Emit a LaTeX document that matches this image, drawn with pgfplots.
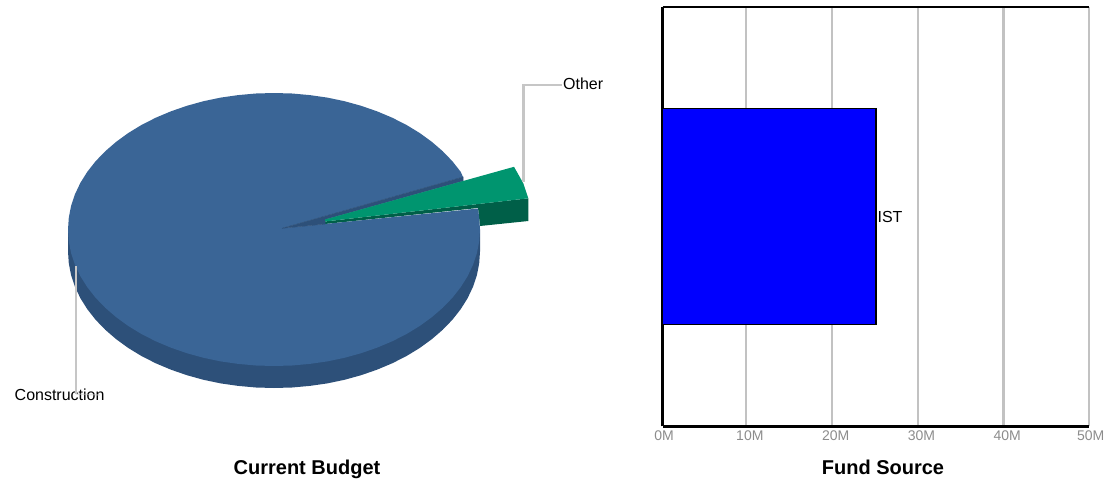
\documentclass[border=0pt]{standalone}
\usepackage{pgfplots}
\pgfplotsset{compat=1.18}
\usepackage{fontspec}
\setmainfont{Liberation Sans}
\definecolor{pieblue}{HTML}{3A6596}
\definecolor{piebluedk}{HTML}{2D5079}
\definecolor{piegreen}{HTML}{00956F}
\definecolor{piegreendk}{HTML}{005F48}
\definecolor{leader}{HTML}{C6C6C6}
\definecolor{gridc}{HTML}{C2C2C2}
\definecolor{tickc}{HTML}{8C8C8C}
\begin{document}
\begin{tikzpicture}[x=1pt,y=1pt]
\path[use as bounding box] (0,0) rectangle (1116,479);
\begin{axis}[
  at={(0pt,0pt)},anchor=south west,
  scale only axis,width=1116pt,height=479pt,
  xmin=0,xmax=1116,ymin=0,ymax=479,y dir=reverse,
  hide axis,clip=false]
% side wall of the large slice
\addplot[fill=piebluedk,draw=none] coordinates {
(68,251.5)(68.8,263.4)(71.1,275.2)(75,286.8)(80.4,298.2)(87.3,309.2)(95.6,319.75)(105.3,329.8)(116.2,339.2)(128.3,348)(141.6,356.1)(155.8,363.3)(171,369.7)(186.9,375.2)(203.5,379.8)(220.7,383.4)(238.2,385.9)(256,387.5)(274,388)(292,387.5)(309.8,385.9)(327.3,383.4)(344.5,379.8)(361.1,375.2)(377,369.7)(392.2,363.3)(406.4,356.1)(419.7,348)(431.8,339.2)(442.7,329.8)(452.4,319.75)(460.7,309.2)(467.6,298.2)(473,286.8)(476.9,275.2)(479.2,263.4)(480,251.5)(480,229.5)(68,229.5)} --cycle;
% side wall of the small slice
\addplot[fill=piegreendk,draw=none] coordinates {(325,221.5)(528.3,198.3)(528.3,221)(480,226)(478,208)(325,224)} --cycle;
% top of the large slice
\addplot[fill=pieblue,draw=none] coordinates {
(282,228.3)(463,177)(460.7,171.8)(452.4,161.25)(442.7,151.2)(431.8,141.8)(419.7,133)(406.4,124.9)(392.2,117.7)(377,111.3)(361.1,105.8)(344.5,101.2)(327.3,97.6)(309.8,95.1)(292,93.5)(274,93)(256,93.5)(238.2,95.1)(220.7,97.6)(203.5,101.2)(186.9,105.8)(171,111.3)(155.8,117.7)(141.6,124.9)(128.3,133)(116.2,141.8)(105.3,151.2)(95.6,161.25)(87.3,171.8)(80.4,182.8)(75,194.2)(71.1,205.8)(68.8,217.6)(68,229.5)(68.8,241.4)(71.1,253.2)(75,264.8)(80.4,276.2)(87.3,287.2)(95.6,297.75)(105.3,307.8)(116.2,317.2)(128.3,326)(141.6,334.1)(155.8,341.3)(171,347.7)(186.9,353.2)(203.5,357.8)(220.7,361.4)(238.2,363.9)(256,365.5)(274,366)(292,365.5)(309.8,363.9)(327.3,361.4)(344.5,357.8)(361.1,353.2)(377,347.7)(392.2,341.3)(406.4,334.1)(419.7,326)(431.8,317.2)(442.7,307.8)(452.4,297.75)(460.7,287.2)(467.6,276.2)(473,264.8)(476.9,253.2)(479.2,241.4)(480,229.5)(479.2,217.6)(478,208.5)} --cycle;
% inner wall strip
\addplot[fill=piebluedk,draw=piebluedk,line width=0.5pt] coordinates {(282,228.3)(463,177)(463,181)(325,219.5)(325,224)} --cycle;
% top of the small slice
\addplot[fill=piegreen,draw=none] coordinates {(325,219.5)(514,166.8)(523.3,183.3)(528.3,198.3)(325,221.5)} --cycle;
% leader lines
\addplot[leader,line width=2.2pt] coordinates {(523.5,182)(523.5,85)(562,85)};
\node[anchor=west,font=\fontsize{16}{18}\selectfont,inner sep=0pt] at (axis cs:563,84) {Other};
\node[anchor=west,font=\fontsize{16}{18}\selectfont,inner sep=0pt] at (axis cs:14.5,395) {Construction};
\addplot[leader,line width=2.2pt] coordinates {(76,266)(76,394)};
\addplot[leader,line width=1.4pt,opacity=0.5] coordinates {(76,394)(100,395)};
\node[font=\fontsize{20}{22}\selectfont\bfseries,anchor=base] at (axis cs:307,474) {Current Budget};
\node[font=\fontsize{20}{22}\selectfont\bfseries,anchor=base] at (axis cs:883,474) {Fund Source};
\end{axis}
\begin{axis}[
  at={(662.5pt,52.7pt)},anchor=south west,
  scale only axis,width=426.8pt,height=419.6pt,
  xmin=0.25,xmax=50,ymin=-1,ymax=1,
  axis x line=bottom,axis y line=left,
  axis line style={black,line width=2.5pt,-},
  xbar,bar width=216pt,
  xtick={0.25,10,20,30,40,50},
  xticklabels={0M\hspace{4.4pt}\null,10M,20M,30M,40M,50M\hspace{4.6pt}\null},
  ytick=\empty,
  major tick length=0pt,
  xmajorgrids,
  grid style={gridc,line width=2.2pt},
  xticklabel style={font=\fontsize{14}{16}\selectfont,text=tickc,xshift=3.7pt,yshift=-0.5pt},
  clip=false]
\addplot[fill=blue,draw=black,line width=1.8pt] coordinates {(25.1,0)};
\node[anchor=west,font=\fontsize{16}{18}\selectfont,inner sep=0pt] at (axis cs:25.3,0) {IST};
\draw[black,line width=1.8pt] (rel axis cs:0,1)--(rel axis cs:1,1);
\end{axis}
\end{tikzpicture}
\end{document}
